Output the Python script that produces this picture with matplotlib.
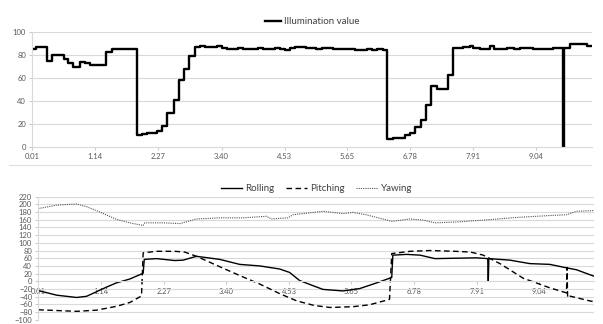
import numpy as np
import matplotlib.pyplot as plt
from matplotlib.lines import Line2D

plt.rcParams['font.family'] = ['Lato', 'DejaVu Sans']

# x labels of both panels (category-like axis)
tick_vals = [0.01, 1.14, 2.27, 3.40, 4.53, 5.65, 6.78, 7.91, 9.04]
tick_labels = ["0.01", "1.14", "2.27", "3.40", "4.53", "5.65", "6.78", "7.91", "9.04"]
x_end = 10.03

# illumination, step changes (start of each step, value)
illum_x = [0.01, 0.08, 0.27, 0.37, 0.57, 0.65, 0.74, 0.86, 0.95, 1.04, 1.33, 1.43,
           1.88, 1.97, 2.06, 2.25, 2.34, 2.43, 2.55, 2.64, 2.73, 2.82, 2.92, 3.01,
           3.10, 3.31, 3.40, 3.49, 3.70, 3.79, 4.06, 4.15, 4.36, 4.45, 4.54, 4.63,
           4.72, 4.92, 5.10, 5.19, 5.40, 5.79, 6.00, 6.09, 6.18, 6.30, 6.37, 6.47,
           6.68, 6.77, 6.86, 6.97, 7.06, 7.16, 7.25, 7.45, 7.54, 7.73, 7.85, 7.91,
           8.03, 8.21, 8.28, 8.51, 8.63, 8.75, 8.98, 9.34, 9.52, 9.53, 9.64, 9.94,
           10.03]
illum_v = [85, 87, 75, 80, 76, 73, 69, 74, 73, 71, 82, 85,
           10, 11, 12, 14, 18, 29, 41, 58, 68, 79, 87, 88,
           87, 88, 86, 85, 86, 85, 86, 85, 86, 85, 84, 86,
           87, 86, 85, 86, 85, 84, 85, 84, 85, 84, 7, 8,
           10, 12, 17, 23, 36, 53, 50, 62, 86, 87, 88, 86,
           85, 88, 85, 86, 85, 86, 85, 86, 0, 86, 89, 88,
           88]

roll_x = [0.01, 0.34, 0.70, 0.88, 1.06, 1.24, 1.42, 1.66, 1.90, 1.92, 2.14, 2.47,
          2.62, 2.86, 3.28, 3.64, 4.00, 4.36, 4.54, 4.72, 4.90, 5.14, 5.50, 5.80,
          6.11, 6.38, 6.40, 6.65, 6.89, 7.01, 7.16, 7.52, 7.91, 8.11, 8.12, 8.13,
          8.51, 8.87, 9.23, 9.53, 9.71, 10.03]
roll_v = [-24, -36, -42, -39, -27, -15, -4, 6, 21, 57, 59, 54,
          55, 65, 57, 44, 40, 32, 23, 2, -8, -21, -25, -19,
          -4, 10, 68, 70, 68, 64, 59, 60, 61, 59, 0, 59,
          55, 46, 44, 35, 30, 13]

pitch_x = [0.01, 0.70, 1.06, 1.42, 1.66, 1.87, 1.90, 2.14, 2.47, 2.65, 2.86, 3.28,
           3.64, 4.00, 4.36, 4.67, 4.99, 5.27, 5.68, 5.98, 6.34, 6.38, 6.71, 7.07,
           7.52, 7.80, 8.03, 8.33, 8.75, 9.23, 9.53, 9.54, 9.55, 9.58, 9.95, 10.03]
pitch_v = [-74, -78, -75, -65, -55, -38, 74, 78, 78, 76, 65, 38,
           15, -7, -32, -51, -63, -68, -66, -61, -47, 72, 78, 80,
           78, 76, 68, 46, 8, -17, -30, 36, -42, -38, -51, -53]

yaw_x = [0.01, 0.34, 0.70, 0.88, 1.12, 1.42, 1.66, 1.90, 1.93, 2.26, 2.56, 2.86,
         3.28, 3.70, 4.12, 4.21, 4.51, 4.60, 4.90, 5.14, 5.50, 5.68, 5.92, 6.38,
         6.71, 6.95, 7.16, 7.52, 8.03, 8.63, 9.23, 9.53, 9.71, 10.03]
yaw_v = [189, 198, 201, 194, 180, 161, 152, 145, 152, 152, 150, 162,
         165, 165, 169, 162, 165, 173, 178, 182, 176, 179, 173, 156,
         162, 159, 152, 154, 159, 166, 171, 173, 182, 184]

grid_c = '#d9d9d9'
txt_c = '#595959'

fig = plt.figure(figsize=(6.03, 3.24), dpi=100)

# ---- top panel
ax1 = fig.add_axes([0.0536, 0.547, 0.9277, 0.355])
ax1.plot(illum_x, illum_v, drawstyle='steps-post', color='black', lw=1.7,
         label='Illumination value')
ax1.set_xlim(0.01, x_end)
ax1.set_ylim(0, 100)
ax1.set_yticks(range(0, 101, 20))
ax1.set_xticks(tick_vals)
ax1.set_xticklabels(tick_labels)
ax1.grid(axis='y', color=grid_c, lw=0.8)
ax1.set_axisbelow(True)
for s in ['top', 'right']:
    ax1.spines[s].set_visible(False)
for s in ['left', 'bottom']:
    ax1.spines[s].set_color(grid_c)
ax1.tick_params(labelsize=5.5, colors=txt_c, length=2.5, width=0.6, pad=2,
                color='#bfbfbf')
ax1.legend(loc='upper center', bbox_to_anchor=(0.5, 1.2), frameon=False,
           fontsize=7, handlelength=1.6, handletextpad=0.3, labelcolor='#404040')

# ---- bottom panel
ax2 = fig.add_axes([0.0635, 0.013, 0.922, 0.380])
ax2.plot(roll_x, roll_v, color='black', lw=1.0, label='Rolling')
ax2.plot(pitch_x, pitch_v, color='black', lw=1.0, ls=(0, (4, 2.5)), label='Pitching')
ax2.plot(yaw_x, yaw_v, color='#555555', lw=0.8, ls=(0, (1, 1)), label='Yawing')
ax2.set_xlim(0.01, x_end)
ax2.set_ylim(-100, 220)
ax2.set_yticks(range(-100, 221, 20))
ax2.set_xticks(tick_vals)
ax2.set_xticklabels(tick_labels)
ax2.grid(axis='y', color=grid_c, lw=0.8)
ax2.set_axisbelow(True)
ax2.spines['bottom'].set_position(('data', 0))
for s in ['top', 'right']:
    ax2.spines[s].set_visible(False)
for s in ['left', 'bottom']:
    ax2.spines[s].set_color(grid_c)
ax2.tick_params(labelsize=5.5, colors=txt_c, length=2.5, width=0.6, pad=2,
                color='#bfbfbf')
ax2.legend(loc='upper center', bbox_to_anchor=(0.5, 1.17), frameon=False, ncol=3,
           fontsize=7, handlelength=2.2, handletextpad=0.3, columnspacing=1.2,
           labelcolor='#404040')

# faint border between the two charts
fig.add_artist(Line2D([0.015, 0.98], [0.491, 0.491], color='#e0e0e0', lw=0.8))

fig.savefig('out.png', dpi=100)
